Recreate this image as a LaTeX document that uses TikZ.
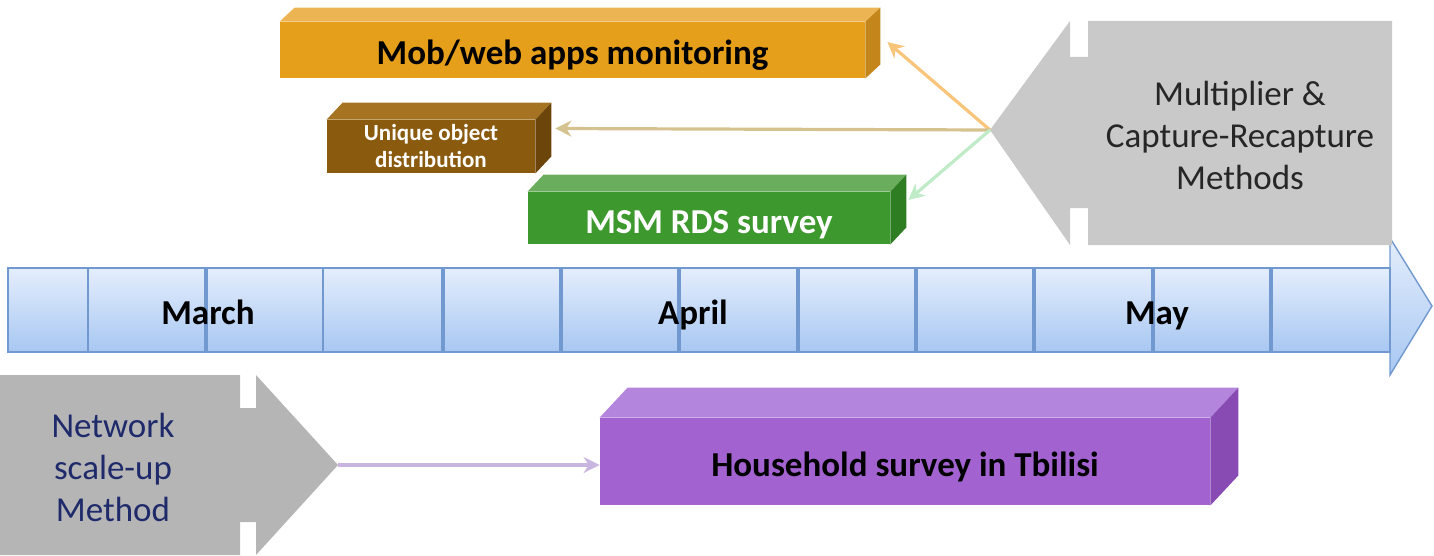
\documentclass[tikz,border=0pt]{standalone}
\usepackage{fontspec}
\setmainfont{Carlito}
\usepackage{tikz}
\usetikzlibrary{arrows.meta}
\definecolor{mobfront}{HTML}{E69F1B}
\definecolor{mobtop}{HTML}{EDB453}
\definecolor{mobside}{HTML}{C4861A}
\definecolor{uniqfront}{HTML}{8A5A0F}
\definecolor{uniqtop}{HTML}{A57322}
\definecolor{uniqside}{HTML}{6B4509}
\definecolor{msmfront}{HTML}{3D982D}
\definecolor{msmtop}{HTML}{6AAE5D}
\definecolor{msmside}{HTML}{2E7D23}
\definecolor{housefront}{HTML}{A262CF}
\definecolor{housetop}{HTML}{B485DC}
\definecolor{houseside}{HTML}{874BB3}
\definecolor{methgray}{HTML}{C9C9C9}
\definecolor{nsugray}{HTML}{B5B5B5}
\definecolor{nsublue}{HTML}{1F2A6B}
\definecolor{tltop}{HTML}{E4EEFC}
\definecolor{tlbot}{HTML}{A8C7F2}
\definecolor{tlborder}{HTML}{7199CF}
\definecolor{moblink}{HTML}{F8C57A}
\definecolor{uniqlink}{HTML}{D5C28F}
\definecolor{msmlink}{HTML}{BFEBC6}
\definecolor{houselink}{HTML}{C8B5E0}
\newcommand{\cubefaces}[4]{% node, depth, top colour, side colour
  \fill[#3] (#1.north west) -- ++(#2) -- ([shift={(#2)}]#1.north east) -- (#1.north east) -- cycle;
  \fill[#4] (#1.north east) -- ++(#2) -- ([shift={(#2)}]#1.south east) -- (#1.south east) -- cycle;
}
\tikzset{
  cube/.style={inner sep=0pt, text height=15pt, text depth=0pt, font=\fontsize{17.5}{21}\selectfont\bfseries},
  cell/.style={draw=tlborder, line width=0.7pt, top color=tltop, bottom color=tlbot},
  month/.style={anchor=base, font=\fontsize{17.5}{21}\selectfont\bfseries},
  method/.style={align=center, font=\fontsize{17.5}{21}\selectfont},
  link/.style={line width=1.6pt, -{Stealth[length=8pt,width=8pt]}},
}

\begin{document}
\begin{tikzpicture}[x=0.5pt,y=-0.5pt]
  \useasboundingbox (0,0) rectangle (1434,556);

  % timeline
  \path[cell] (1390,238) -- (1432,306) -- (1390,375) -- cycle;
  \foreach \a/\b in {8/88, 88/205, 207/323, 323/442, 444/560, 562/678, 680/797,
                     799/915, 917/1033, 1035/1152, 1154/1270, 1272/1390}
    \path[cell] (\a,268) rectangle (\b,352);
  \node[month] (march) at (208,324) {March};
  \node[month] (april) at (693,324) {April};
  \node[month] (may) at (1157,324) {May};

  % activity boxes
  \node[cube, fill=mobfront, minimum width=292.5pt, minimum height=28pt] (mob) at (572.5,50) {Mob/web apps monitoring};
  \cubefaces{mob}{15,-14}{mobtop}{mobside}
  \node[cube, fill=uniqfront, text=white, align=center, minimum width=104pt, minimum height=26.5pt,
        text height=, text depth=, font=\fontsize{11.5}{13.5}\selectfont\bfseries] (uniq) at (431,146.5) {Unique object\\distribution};
  \cubefaces{uniq}{16,-17}{uniqtop}{uniqside}
  \node[cube, fill=msmfront, text=white, minimum width=181pt, minimum height=26pt] (msm) at (709,218) {MSM RDS survey};
  \cubefaces{msm}{16,-17}{msmtop}{msmside}
  \node[cube, fill=housefront, minimum width=305pt, minimum height=43.5pt] (house) at (905,461.5) {Household survey in Tbilisi};
  \cubefaces{house}{28,-30}{housetop}{houseside}

  % method arrows
  \coordinate (mtip) at (990,130);
  \fill[methgray] (1392,21) -- (1088,21) -- (1088,57) -- (1070,57) -- (1070,21) -- (mtip)
    -- (1070,245) -- (1070,208) -- (1088,208) -- (1088,245) -- (1392,245) -- cycle;
  \node[method, text=black!85] (mult) at (1240,135) {Multiplier \&\\Capture-Recapture\\Methods};

  \coordinate (ntip) at (338,465);
  \fill[nsugray] (0,375) -- (240,375) -- (240,408) -- (256,408) -- (256,375) -- (ntip)
    -- (256,555) -- (256,522) -- (240,522) -- (240,555) -- (0,555) -- cycle;
  \node[method, text=nsublue] (nsu) at (113,467) {Network\\scale-up\\Method};

  % links
  \draw[link, draw=moblink] (mtip) -- ([shift={(22,-8)}]mob.east);
  \draw[link, draw=uniqlink] (mtip) -- ([shift={(20,-18)}]uniq.east);
  \draw[link, draw=msmlink] (mtip) -- ([shift={(18,-18)}]msm.east);
  \draw[link, draw=houselink] (ntip) -- (ntip -| house.west);
\end{tikzpicture}
\end{document}
